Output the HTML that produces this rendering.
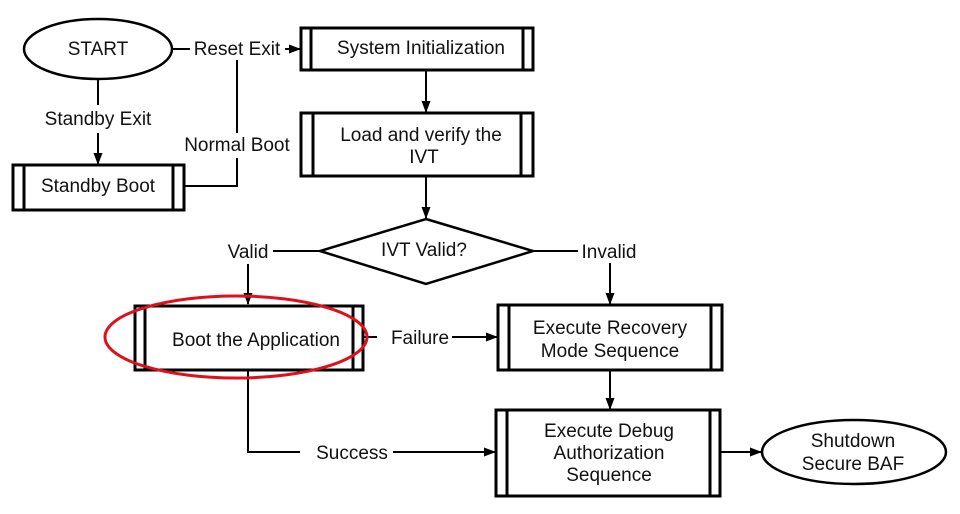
<!DOCTYPE html>
<html><head><meta charset="utf-8"><style>
html,body{margin:0;padding:0;background:#fff;}
svg{display:block;}
text{font-family:"Liberation Sans",Arial,sans-serif;font-size:19px;fill:#111;}
</style></head><body>
<svg width="960" height="514" viewBox="0 0 960 514" xmlns="http://www.w3.org/2000/svg">
<defs><marker id="a" markerWidth="12" markerHeight="12" refX="11" refY="6" orient="auto" markerUnits="userSpaceOnUse"><path d="M0,1.5 L12,6 L0,10.5 Z" fill="#000"/></marker></defs>
<g fill="none" stroke="#000" stroke-width="2">
<ellipse cx="98" cy="49" rx="74" ry="30" stroke-width="2.5"/>
<line x1="172" y1="49" x2="190" y2="49"/>
<line x1="285" y1="49" x2="300" y2="49" marker-end="url(#a)"/>
<rect x="301" y="28" width="232" height="42" stroke-width="3"/>
<line x1="311" y1="28" x2="311" y2="70" stroke-width="3"/>
<line x1="523" y1="28" x2="523" y2="70" stroke-width="3"/>
<polyline points="237,60 237,133"/>
<polyline points="237,158 237,186 184,186"/>
<line x1="98" y1="79" x2="98" y2="105"/>
<line x1="98" y1="133" x2="98" y2="164" marker-end="url(#a)"/>
<rect x="13" y="165" width="171" height="45" stroke-width="3"/>
<line x1="24" y1="165" x2="24" y2="210" stroke-width="3"/>
<line x1="173" y1="165" x2="173" y2="210" stroke-width="3"/>
<line x1="426" y1="70" x2="426" y2="112" marker-end="url(#a)"/>
<rect x="301" y="113" width="232" height="63" stroke-width="3"/>
<line x1="313" y1="113" x2="313" y2="176" stroke-width="3"/>
<line x1="521" y1="113" x2="521" y2="176" stroke-width="3"/>
<line x1="426" y1="176" x2="426" y2="218" marker-end="url(#a)"/>
<polygon points="426,219 533,251 426,284 320,251" stroke-width="2.5"/>
<line x1="320" y1="251" x2="273" y2="251"/>
<line x1="248" y1="264" x2="248" y2="304" marker-end="url(#a)"/>
<line x1="533" y1="251" x2="578" y2="251"/>
<line x1="610" y1="263" x2="610" y2="304" marker-end="url(#a)"/>
<rect x="135" y="306" width="228" height="64" stroke-width="3"/>
<line x1="145" y1="306" x2="145" y2="370" stroke-width="3"/>
<line x1="353" y1="306" x2="353" y2="370" stroke-width="3"/>
<line x1="363" y1="337" x2="377" y2="337"/>
<line x1="452" y1="337" x2="497" y2="337" marker-end="url(#a)"/>
<rect x="498" y="305" width="224" height="65" stroke-width="3"/>
<line x1="509" y1="305" x2="509" y2="370" stroke-width="3"/>
<line x1="711" y1="305" x2="711" y2="370" stroke-width="3"/>
<line x1="610" y1="370" x2="610" y2="409" marker-end="url(#a)"/>
<polyline points="248,370 248,452 300,452"/>
<line x1="393" y1="452" x2="495" y2="452" marker-end="url(#a)"/>
<rect x="496" y="410" width="224" height="86" stroke-width="3"/>
<line x1="507" y1="410" x2="507" y2="496" stroke-width="3"/>
<line x1="710" y1="410" x2="710" y2="496" stroke-width="3"/>
<line x1="720" y1="452" x2="761" y2="452" marker-end="url(#a)"/>
<ellipse cx="854" cy="452" rx="92" ry="32" stroke-width="2.5"/>
<ellipse cx="236" cy="337" rx="131" ry="41" stroke="#e0101a" stroke-width="3"/>
</g>
<text x="98" y="55" text-anchor="middle">START</text>
<text x="237" y="55" text-anchor="middle">Reset Exit</text>
<text x="421" y="54" text-anchor="middle">System Initialization</text>
<text x="98" y="125" text-anchor="middle">Standby Exit</text>
<text x="237" y="151" text-anchor="middle">Normal Boot</text>
<text x="98" y="192" text-anchor="middle">Standby Boot</text>
<text x="421" y="141" text-anchor="middle">Load and verify the</text>
<text x="424" y="163" text-anchor="middle">IVT</text>
<text x="424" y="256" text-anchor="middle">IVT Valid?</text>
<text x="248" y="258" text-anchor="middle">Valid</text>
<text x="609" y="258" text-anchor="middle">Invalid</text>
<text x="256" y="346" text-anchor="middle">Boot the Application</text>
<text x="420" y="344" text-anchor="middle">Failure</text>
<text x="610" y="334" text-anchor="middle">Execute Recovery</text>
<text x="610" y="357" text-anchor="middle">Mode Sequence</text>
<text x="352" y="459" text-anchor="middle">Success</text>
<text x="609" y="437" text-anchor="middle">Execute Debug</text>
<text x="609" y="459" text-anchor="middle">Authorization</text>
<text x="609" y="481" text-anchor="middle">Sequence</text>
<text x="853" y="447" text-anchor="middle">Shutdown</text>
<text x="853" y="470" text-anchor="middle">Secure BAF</text>
</svg>
</body></html>
